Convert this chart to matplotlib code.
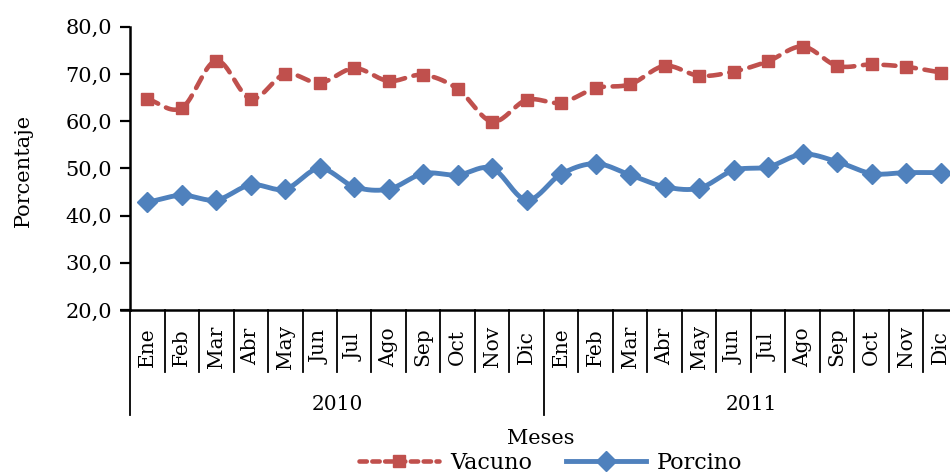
import numpy as np
import matplotlib
matplotlib.use("Agg")
import matplotlib.pyplot as plt
from matplotlib.lines import Line2D
from matplotlib.ticker import FuncFormatter

# data
meses = ["Ene", "Feb", "Mar", "Abr", "May", "Jun",
         "Jul", "Ago", "Sep", "Oct", "Nov", "Dic"]
anios = ["2010", "2011"]
vacuno = [64.7, 62.8, 72.8, 64.7, 70.0, 68.1, 71.2, 68.5, 69.8, 66.8, 59.9, 64.5,
          63.9, 67.0, 67.8, 71.7, 69.6, 70.5, 72.7, 75.8, 71.7, 72.0, 71.5, 70.3]
porcino = [42.8, 44.3, 43.3, 46.5, 45.6, 50.0, 46.1, 45.6, 48.9, 48.6, 50.0, 43.3,
           48.8, 51.0, 48.6, 46.1, 45.8, 49.6, 50.3, 53.0, 51.4, 48.9, 49.1, 49.1]

ROJO = "#C0504D"
AZUL = "#4F81BD"
plt.rcParams["font.family"] = ["DejaVu Serif"]


def smooth(x, y, n=20):
    # Catmull-Rom curve through the points (like Excel "smoothed line")
    x = np.asarray(x, float)
    y = np.asarray(y, float)
    px = np.concatenate([[2 * x[0] - x[1]], x, [2 * x[-1] - x[-2]]])
    py = np.concatenate([[2 * y[0] - y[1]], y, [2 * y[-1] - y[-2]]])
    t = np.linspace(0, 1, n, endpoint=False)
    xs, ys = [], []
    for i in range(1, len(px) - 2):
        for p, out in ((px, xs), (py, ys)):
            p0, p1, p2, p3 = p[i - 1], p[i], p[i + 1], p[i + 2]
            out.extend(0.5 * (2 * p1 + (-p0 + p2) * t
                              + (2 * p0 - 5 * p1 + 4 * p2 - p3) * t ** 2
                              + (-p0 + 3 * p1 - 3 * p2 + p3) * t ** 3))
    xs.append(x[-1])
    ys.append(y[-1])
    return np.array(xs), np.array(ys)


fig = plt.figure(figsize=(9.5, 4.76), dpi=100)
W, H = 950, 476
ax = fig.add_axes([130 / W, (H - 310) / H, 828 / W, 283.3 / H])

x = np.arange(len(vacuno))
sx, sy = smooth(x, vacuno)
ax.plot(sx, sy, color=ROJO, lw=3.3, dashes=(2.6, 1.9), dash_capstyle="round",
        clip_on=False)
ax.plot(x, vacuno, ls="none", marker="s", ms=9, color=ROJO, clip_on=False)
sx, sy = smooth(x, porcino)
ax.plot(sx, sy, color=AZUL, lw=3.5, solid_capstyle="round", clip_on=False)
ax.plot(x, porcino, ls="none", marker="D", ms=10.5, color=AZUL, clip_on=False)

ax.set_xlim(-0.5, len(x) - 0.5)
ax.set_ylim(20, 80)
ax.set_yticks(np.arange(20, 81, 10))
ax.yaxis.set_major_formatter(FuncFormatter(lambda v, p: f"{v:.1f}".replace(".", ",")))
ax.tick_params(axis="y", direction="out", length=7, width=1.6, labelsize=15, pad=6)
ax.set_xticks([])
for s in ["top", "right"]:
    ax.spines[s].set_visible(False)
for s in ["left", "bottom"]:
    ax.spines[s].set_linewidth(1.8)

# category axis with two levels
tr = ax.get_xaxis_transform()
for k in range(len(x) + 1):
    bottom = -0.371 if k % 12 == 0 else -0.219
    ax.plot([k - 0.5, k - 0.5], [0, bottom], color="black", lw=1.3,
            transform=tr, clip_on=False)
ax.plot([-0.75, -0.5], [0, 0], color="black", lw=1.8, transform=tr, clip_on=False)
for i in x:
    ax.text(i, -0.13, meses[i % 12], rotation=90, ha="center", va="center",
            fontsize=14.5, transform=tr)
for j, a in enumerate(anios):
    ax.text(j * 12 + 5.5, -0.335, a, ha="center", va="center", fontsize=14.5,
            transform=tr)

fig.text(23 / W, 1 - 170 / H, "Porcentaje", rotation=90, ha="center", va="center",
         fontsize=15)
fig.text(541 / W, 1 - 438 / H, "Meses", ha="center", va="center", fontsize=15)

handles = [
    Line2D([], [], color=ROJO, lw=3.3, dashes=(1.6, 1.2), dash_capstyle="round",
           marker="s", ms=9),
    Line2D([], [], color=AZUL, lw=3.5, marker="D", ms=10),
]
fig.legend(handles, ["Vacuno", "Porcino"], loc="center", ncol=2,
           bbox_to_anchor=(551 / W, 1 - 463 / H), frameon=False, fontsize=16,
           handlelength=3.6, handletextpad=0.5, columnspacing=1.5,
           borderpad=0, borderaxespad=0)

fig.savefig("out.png", dpi=100)
